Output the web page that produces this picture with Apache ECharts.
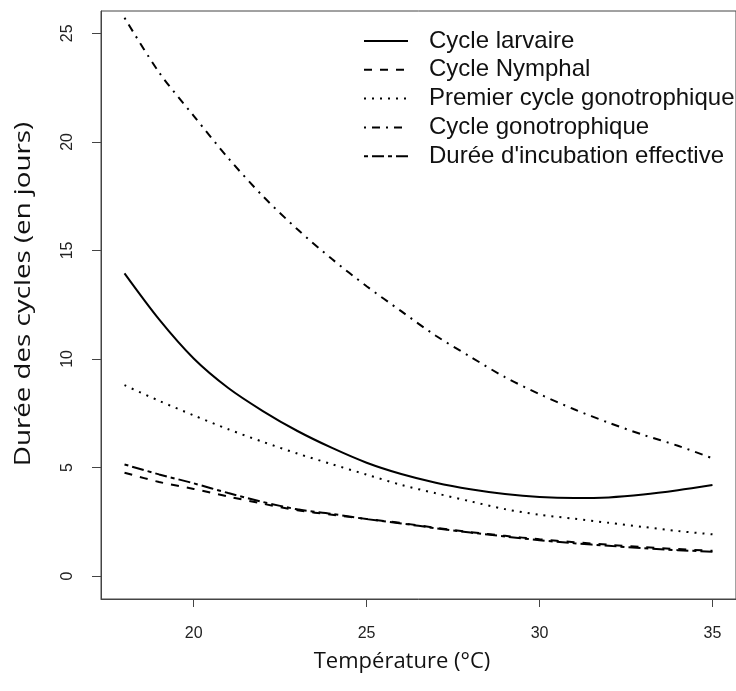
<!DOCTYPE html>
<html><head><meta charset="utf-8">
<script src="https://cdn.jsdelivr.net/npm/echarts@6/dist/echarts.min.js"></script>
<style>html,body{margin:0;padding:0;background:#fff}#c{width:736px;height:691px}</style>
</head><body><div id="c"></div>
<script>
const temperatures = [18,19,20,21,22,23,24,25,26,27,28,29,30,31,32,33,34,35];
const cycleLarvaire = [13.94,11.82,10.02,8.66,7.6,6.68,5.9,5.22,4.7,4.3,4.0,3.78,3.64,3.59,3.62,3.75,3.95,4.19];
const cycleNymphal = [4.76,4.33,4.01,3.66,3.33,3.03,2.82,2.63,2.44,2.22,2.02,1.85,1.69,1.56,1.44,1.33,1.24,1.16];
const premierCycleGono = [8.79,8.07,7.4,6.76,6.18,5.64,5.15,4.67,4.2,3.81,3.44,3.08,2.82,2.64,2.45,2.26,2.07,1.92];
const cycleGono = [25.72,23.2,21.2,19.25,17.5,15.97,14.6,13.35,12.2,11.07,10.1,9.16,8.38,7.68,7.06,6.5,6.0,5.42];
const dureeIncubation = [5.14,4.68,4.27,3.82,3.41,3.07,2.86,2.62,2.42,2.2,2.0,1.82,1.65,1.51,1.39,1.28,1.19,1.12];
const seriesNames = ['Cycle larvaire','Cycle Nymphal','Premier cycle gonotrophique','Cycle gonotrophique',"Durée d'incubation effective"];
const xTicks = [20,25,30,35];
const yTicks = [0,5,10,15,20,25];

const dashes = ['solid',[8,8],[2,6],[2,6,8,6],[4,4,12,4]];
const allData = [cycleLarvaire,cycleNymphal,premierCycleGono,cycleGono,dureeIncubation];

const chart = echarts.init(document.getElementById('c'), null, {renderer:'canvas'});
chart.setOption({
  backgroundColor:'#fff',
  animation:false,
  grid:{left:101, top:11, width:645, height:588, show:true, borderColor:'#444', borderWidth:1},
  xAxis:{type:'value', min:17.32, max:35.68,
    axisLine:{show:true, onZero:false, lineStyle:{color:'#444'}},
    axisTick:{show:true, length:8, customValues:xTicks, lineStyle:{color:'#444'}},
    axisLabel:{customValues:xTicks, margin:27, fontSize:16, fontFamily:'Liberation Sans', color:'#222'},
    splitLine:{show:false}},
  yAxis:{type:'value', min:-1.06, max:26.03,
    axisLine:{show:true, onZero:false, lineStyle:{color:'#444'}},
    axisTick:{show:true, length:9, customValues:yTicks, lineStyle:{color:'#444'}},
    axisLabel:{customValues:yTicks, rotate:90, margin:25, fontSize:16, fontFamily:'Liberation Sans', color:'#222'},
    splitLine:{show:false}},
  legend:{orient:'vertical', left:363, top:29, padding:0, itemWidth:44, itemHeight:24, itemGap:4.8,
    itemStyle:{color:'rgba(0,0,0,0)', borderWidth:0, opacity:0},
    textStyle:{fontSize:24, lineHeight:24, fontFamily:'Liberation Sans', color:'#111', padding:[0,0,0,16]},
    data:seriesNames},
  graphic:[
    {type:'text', x:402, y:662, style:{text:'Température (°C)', font:'22px "Open Sans"', fill:'#111', textAlign:'center', textVerticalAlign:'middle'}},
    {type:'text', x:24, y:294, rotation:Math.PI/2, scaleX:1.26, style:{text:'Durée des cycles (en jours)', font:'22px "Open Sans"', fill:'#111', textAlign:'center', textVerticalAlign:'middle'}}
  ],
  series: seriesNames.map((n,i)=>({
    name:n, type:'line', smooth:0.3, symbol:'none', showSymbol:false,
    data: temperatures.map((t,j)=>[t, allData[i][j]]),
    lineStyle:{color:'#000', width:2, type:dashes[i]},
    itemStyle:{color:'#000'}
  }))
});
</script></body></html>
